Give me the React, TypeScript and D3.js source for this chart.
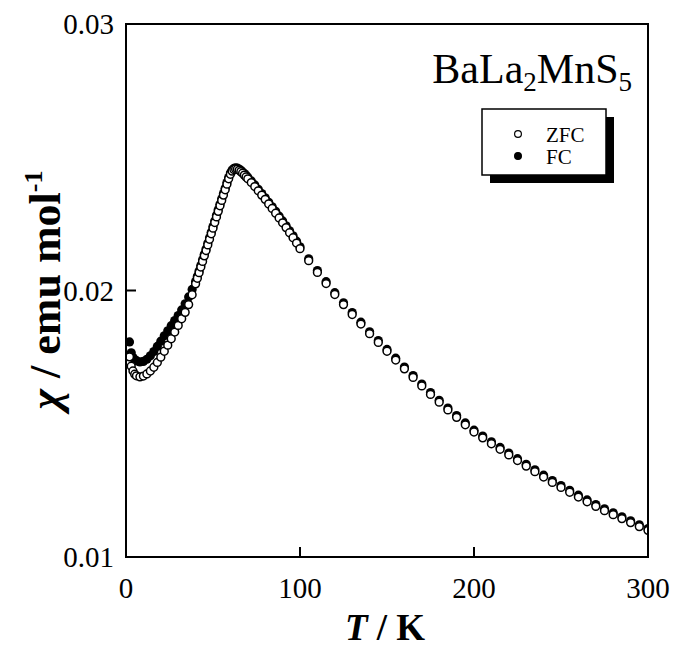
import { scaleLinear } from "d3";

// temperatures (K) and susceptibilities (emu/mol)
const zfcT = [2, 3, 4, 5, 6, 8, 10, 12, 14, 16, 18, 20, 22, 24, 26, 28, 30, 32, 34, 36, 38, 40,
  41, 42, 43, 44, 45, 46, 47, 48, 49, 50, 51, 52, 53, 54, 55, 56, 57, 58, 59, 60,
  61, 62, 63, 64, 65, 66, 67, 68, 69, 70, 72, 74, 76, 78, 80, 82, 84, 86, 88, 90, 92, 94, 96, 98,
  100, 105, 110, 115, 120, 125, 130, 135, 140, 145, 150, 155, 160, 165, 170, 175, 180, 185, 190, 195,
  200, 205, 210, 215, 220, 225, 230, 235, 240, 245, 250, 255, 260, 265, 270, 275, 280, 285, 290, 295, 300];
const zfcChi = [0.01751, 0.01716, 0.01698, 0.01686, 0.0168, 0.01676, 0.01679, 0.01687, 0.01698, 0.01712,
  0.0173, 0.0175, 0.01772, 0.01795, 0.01819, 0.01844, 0.01869, 0.01894, 0.01918, 0.01947, 0.01984, 0.02025,
  0.02046, 0.02067, 0.02088, 0.02109, 0.0213, 0.0215, 0.02171, 0.02192, 0.02213, 0.02234, 0.02255, 0.02276,
  0.02297, 0.02318, 0.02338, 0.02358, 0.02378, 0.02399, 0.02419, 0.02436,
  0.02448, 0.02454, 0.02456, 0.02455, 0.02451, 0.02446, 0.0244, 0.02433, 0.02426, 0.02419,
  0.02405, 0.0239, 0.02374, 0.02358, 0.02342, 0.02325, 0.02308, 0.0229, 0.02272, 0.02254, 0.02236, 0.02217, 0.02198, 0.02178,
  0.02157, 0.02112, 0.02068, 0.02026, 0.01985, 0.01947, 0.0191, 0.01874, 0.01838, 0.01805, 0.01772, 0.01739,
  0.01706, 0.01674, 0.01642, 0.0161, 0.01581, 0.01552, 0.01524, 0.01496,
  0.01469, 0.01447, 0.01425, 0.01404, 0.01383, 0.01362, 0.01341, 0.0132, 0.013, 0.0128, 0.01261, 0.01243,
  0.01225, 0.01207, 0.0119, 0.01174, 0.01159, 0.01144, 0.01129, 0.01114, 0.011];

const fcT = zfcT;
const fcChi = [0.01807, 0.01766, 0.01749, 0.01741, 0.01736, 0.01732, 0.01734, 0.01742, 0.01755, 0.01771,
  0.0179, 0.0181, 0.0183, 0.01849, 0.01868, 0.01887, 0.01906, 0.01927, 0.0195, 0.01976, 0.02004, 0.02034,
  0.02053, 0.02073, 0.02094, 0.02115, 0.02136, 0.02156, 0.02177, 0.02198, 0.02219, 0.0224, 0.02261, 0.02282,
  0.02303, 0.02324, 0.02344, 0.02364, 0.02384, 0.02405, 0.02424, 0.02441,
  0.02452, 0.02458, 0.0246, 0.02459, 0.02456, 0.02451, 0.02445, 0.02439, 0.02432, 0.02425,
  0.02411, 0.02396, 0.0238, 0.02364, 0.02348, 0.02331, 0.02314, 0.02297, 0.02279, 0.02261, 0.02243, 0.02224, 0.02205, 0.02185,
  0.02164, 0.02119, 0.02075, 0.02033, 0.01992, 0.01954, 0.01917, 0.01881, 0.01845, 0.01812, 0.01779, 0.01746,
  0.01713, 0.01681, 0.01649, 0.01617, 0.01588, 0.01559, 0.01531, 0.01503,
  0.01476, 0.01454, 0.01432, 0.01411, 0.0139, 0.01369, 0.01348, 0.01327, 0.01307, 0.01287, 0.01268, 0.0125,
  0.01232, 0.01214, 0.01197, 0.01181, 0.01166, 0.01151, 0.01136, 0.01121, 0.01107];

const xTicks = [0, 100, 200, 300];
const yTicks = [0.01, 0.02, 0.03];
const legendNames = ["ZFC", "FC"];

const W = 673;
const H = 647;
const left = 126, right = 648, top = 24, bottom = 557;
const font = "'Liberation Serif', 'Times New Roman', serif";

export default function App() {
  const x = scaleLinear().domain([0, 300]).range([left, right]);
  const y = scaleLinear().domain([0.01, 0.03]).range([bottom, top]);

  return (
    <svg width={W} height={H} style={{ position: "absolute", left: 0, top: 0, background: "#fff" }}>
      <defs>
        <clipPath id="plot">
          <rect x={left} y={top} width={right - left} height={bottom - top} />
        </clipPath>
      </defs>

      {/* data: FC under, ZFC on top */}
      <g clipPath="url(#plot)">
        {fcT.map((t, i) => (
          <circle key={"f" + i} cx={x(t)} cy={y(fcChi[i])} r={4.6} fill="#000" />
        ))}
        {zfcT.map((t, i) => (
          <circle key={"z" + i} cx={x(t)} cy={y(zfcChi[i])} r={3.9} fill="#fff" stroke="#000" strokeWidth={1.5} />
        ))}
      </g>

      {/* frame */}
      <rect x={left} y={top} width={right - left} height={bottom - top} fill="none" stroke="#000" strokeWidth={2} />

      {/* inward ticks */}
      {xTicks.slice(1, -1).map((t) => (
        <line key={"xt" + t} x1={x(t)} x2={x(t)} y1={bottom} y2={bottom - 10} stroke="#000" strokeWidth={2} />
      ))}
      {yTicks.slice(1, -1).map((t) => (
        <line key={"yt" + t} x1={left} x2={left + 10} y1={y(t)} y2={y(t)} stroke="#000" strokeWidth={2} />
      ))}

      {/* tick labels */}
      {xTicks.map((t) => (
        <text key={"xl" + t} x={x(t)} y={bottom + 41} fontFamily={font} fontSize={29} textAnchor="middle">
          {t}
        </text>
      ))}
      {yTicks.map((t) => (
        <text key={"yl" + t} x={left - 12} y={y(t) + 10} fontFamily={font} fontSize={29} textAnchor="end">
          {t.toFixed(2)}
        </text>
      ))}

      {/* axis titles */}
      <text x={385} y={640} fontFamily={font} fontSize={37} fontWeight="bold" textAnchor="middle">
        <tspan fontStyle="italic">T</tspan> / K
      </text>
      <text transform="translate(60,290) rotate(-90)" fontFamily={font} fontSize={44} fontWeight="bold" textAnchor="middle">
        <tspan fontStyle="italic">χ</tspan> / emu mol<tspan fontSize={26} dy={-18}>-1</tspan>
      </text>

      {/* compound */}
      <text x={632} y={83} fontFamily={font} fontSize={42} textAnchor="end">
        BaLa<tspan fontSize={27} dy={8}>2</tspan><tspan dy={-8}>MnS</tspan><tspan fontSize={27} dy={8}>5</tspan>
      </text>

      {/* legend */}
      <rect x={490} y={117} width={124} height={66} fill="#000" />
      <rect x={482} y={109} width={124} height={66} fill="#fff" stroke="#000" strokeWidth={1.5} />
      {legendNames.map((n, i) => (
        <g key={n}>
          <circle cx={518} cy={134 + i * 22} r={3.4} fill={i === 0 ? "#fff" : "#000"} stroke="#000" strokeWidth={1.2} />
          <text x={546} y={142 + i * 22} fontFamily={font} fontSize={21}>
            {n}
          </text>
        </g>
      ))}
    </svg>
  );
}
